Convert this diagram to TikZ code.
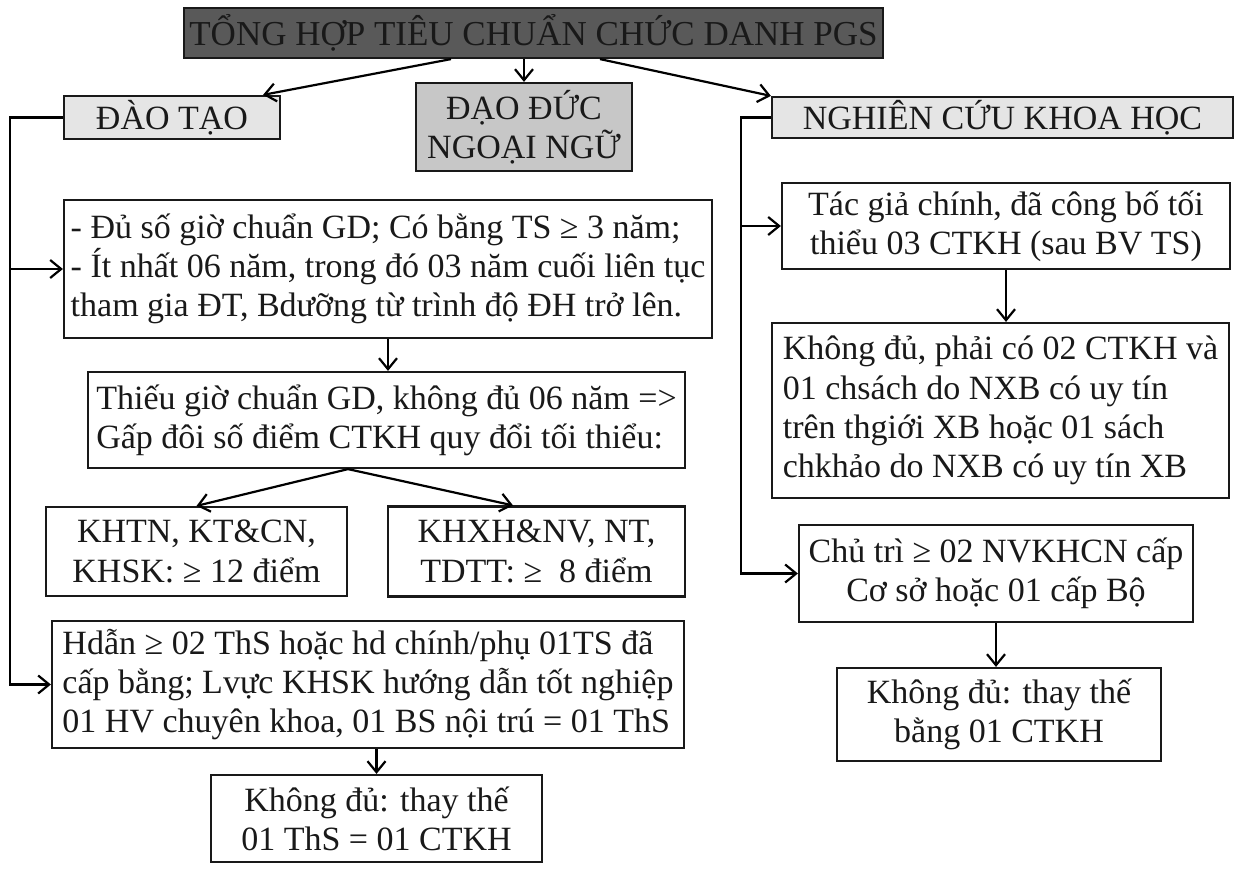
\documentclass[tikz,border=0pt]{standalone}
\usepackage{fontspec}
\setmainfont{Liberation Serif}
\usetikzlibrary{positioning,arrows.meta}

\begin{document}
\begin{tikzpicture}[>={Straight Barb[length=5.5pt,width=9pt]}, x=0.5pt, y=-0.5pt, on grid, line width=1.1pt, font=\fontsize{17}{19.6}\selectfont]
	\tikzstyle{box}=[rectangle,draw=black!90,text=black!90,inner sep=0pt,align=center]
	\tikzstyle{lbox}=[box,align=left]

	\useasboundingbox (0,0) rectangle (1241,872);

	\node[box,fill=black!65,minimum width=349.5pt,minimum height=25pt,font=\fontsize{17.5}{20}\selectfont] (TONGHOP) at (533.5,33) {TỔNG HỢP TIÊU CHUẨN CHỨC DANH PGS};
	\node[box,fill=black!10,minimum width=108pt,minimum height=21.5pt] (DAOTAO) [below left=42.25pt and 180.75pt of TONGHOP] {ĐÀO TẠO};
	\node[box,fill=black!22,minimum width=108pt,minimum height=44pt] (DAODUC) [below left=47pt and 4.75pt of TONGHOP] {ĐẠO ĐỨC\\NGOẠI NGỮ};
	\node[box,fill=black!10,minimum width=230.5pt,minimum height=20.5pt] (NCKH) [below right=42.25pt and 234.5pt of TONGHOP] {NGHIÊN CỨU KHOA HỌC};

	% dao tao
	\node[lbox,minimum width=324pt,minimum height=69pt] (GIOCHUAN) [below right=75.75pt and 108pt of DAOTAO] {- Đủ số giờ chuẩn GD; Có bằng TS ≥ 3 năm;\\- Ít nhất 06 năm, trong đó 03 năm cuối liên tục\\tham gia ĐT, Bdưỡng từ trình độ ĐH trở lên.};
	\node[lbox,minimum width=298.5pt,minimum height=48pt] (THIEUGIO) [below left=75.5pt and 0.75pt of GIOCHUAN] {Thiếu giờ chuẩn GD, không đủ 06 năm =>\\Gấp đôi số điểm CTKH quy đổi tối thiểu:};
	\node[box,minimum width=150.5pt,minimum height=44.5pt] (KHTN) [below left=65.75pt and 95pt of THIEUGIO] {KHTN, KT\&CN,\\KHSK: ≥ 12 điểm};
	\node[box,minimum width=148.5pt,minimum height=45pt] (KHXH) [below right=65.75pt and 75pt of THIEUGIO] {KHXH\&NV, NT,\\TDTT: ≥ \ 8 điểm};
	\node[lbox,minimum width=316pt,minimum height=63.5pt] (HUONGDAN) [below left=132.25pt and 9.25pt of THIEUGIO] {Hdẫn ≥ 02 ThS hoặc hd chính/phụ 01TS đã\\cấp bằng; Lvực KHSK hướng dẫn tốt nghiệp\\01 HV chuyên khoa, 01 BS nội trú = 01 ThS};
	\node[box,minimum width=165.5pt,minimum height=43.5pt] (THAYTHE_TS) [below right=67pt and 4.25pt of HUONGDAN] {Không đủ: thay thế\\01 ThS = 01 CTKH};

	% nghien cuu khoa hoc
	\node[box,minimum width=224pt,minimum height=43pt] (TACGIA) [below right=54.25pt and 1.75pt of NCKH] {Tác giả chính, đã công bố tối\\thiểu 03 CTKH (sau BV TS)};
	\node[lbox,minimum width=228.5pt,minimum height=87.5pt] (KHONGDU) [below left=92.25pt and 2.75pt of TACGIA] {Không đủ, phải có 02 CTKH và\\01 chsách do NXB có uy tín\\trên thgiới XB hoặc 01 sách\\chkhảo do NXB có uy tín XB};
	\node[box,minimum width=197pt,minimum height=48.5pt] (CHUTRI) [below left=81.5pt and 2.25pt of KHONGDU] {Chủ trì ≥ 02 NVKHCN cấp\\Cơ sở hoặc 01 cấp Bộ};
	\node[box,minimum width=162pt,minimum height=46.5pt] (THAYTHE_NV) [below right=70.5pt and 1.5pt of CHUTRI] {Không đủ: thay thế\\bằng 01 CTKH};

	\coordinate (TLEFT) at ([xshift=-41.25pt]TONGHOP.south);
	\coordinate (TRIGHT) at ([xshift=33.25pt]TONGHOP.south);
	\coordinate (TRAI) at ([xshift=-26.5pt]DAOTAO.west);
	\coordinate (PHAI) at ([xshift=-15pt]NCKH.west);
	\coordinate (TACH) at ([xshift=-19.25pt]THIEUGIO.south);

	\path[->]	(TLEFT) edge ([xshift=45.5pt]DAOTAO.north)
				(TONGHOP.south -| DAODUC.north) edge (DAODUC.north)
				(TRIGHT) edge (NCKH.north west)
				(GIOCHUAN.south) edge (GIOCHUAN.south |- THIEUGIO.north)
				(TACH) edge (KHTN.north)
				(TACH) edge ([xshift=-11.75pt]KHXH.north)
				(THAYTHE_TS.north |- HUONGDAN.south) edge (THAYTHE_TS.north)
				(TACGIA.south) edge (TACGIA.south |- KHONGDU.north)
				(CHUTRI.south) edge (CHUTRI.south |- THAYTHE_NV.north);

	\draw[->] (DAOTAO.west) -- (TRAI) |- (HUONGDAN.west);
	\draw[->] (TRAI |- GIOCHUAN.west) -- (GIOCHUAN.west);
	\draw[->] (NCKH.west) -- (PHAI) |- (CHUTRI.west);
	\draw[->] (PHAI |- TACGIA.west) -- (TACGIA.west);

\end{tikzpicture}
\end{document}
